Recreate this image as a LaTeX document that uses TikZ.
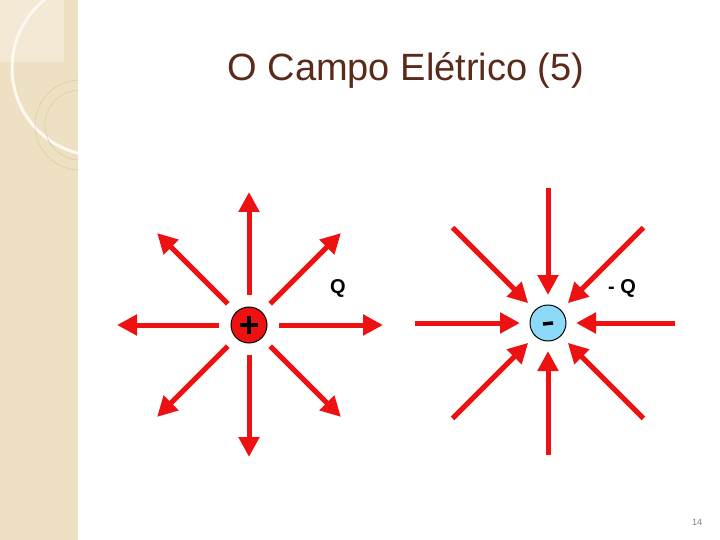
\documentclass[tikz,border=0pt]{standalone}
\usepackage{fontspec}
\setmainfont{Liberation Sans}
\usetikzlibrary{arrows.meta,calc}
\definecolor{side}{HTML}{EEE0C2}
\definecolor{ring}{HTML}{D8C49C}
\definecolor{ttl}{HTML}{5A2A1A}
\definecolor{fr}{HTML}{EE1111}
\tikzset{fld/.style={draw=fr,line width=5pt,-{Triangle[length=20pt,width=20pt]}},
 lbl/.style={font=\fontsize{20}{24}\selectfont\bfseries}}
\begin{document}
\begin{tikzpicture}[x=1pt,y=-1pt]
\useasboundingbox (0,0) rectangle (720,540);
\fill[white] (0,0) rectangle (720,540);
\begin{scope}
\clip (0,0) rectangle (78,540);
\fill[side] (0,0) rectangle (78,540);
\fill[white,opacity=0.3] (0,0) rectangle (64,62);
\draw[white!80!side,line width=3pt] (100,68) circle (88);
\draw[ring] (80,125) circle (45);
\draw[ring] (80,125) circle (35);
\end{scope}
\node[text=ttl,font=\fontsize{38}{44}\selectfont] (title) at (406,70) {O Campo Elétrico (5)};
\node[text=gray,font=\fontsize{9}{10}\selectfont] (pg) at (697,522) {14};
% positive
\node[circle,draw=black,line width=1pt,fill=fr,minimum size=36pt,inner sep=0] (p) at (249,325) {};
\draw[line width=4pt] (240,325)--(258,325) (249,316)--(249,334);
\foreach \a/\r in {0/134,90/132,180/132,270/133,45/130,135/130,225/130,315/130}
  \draw[fld] ($(p)+(\a:30)$) -- ($(p)+(\a:\r)$);
\node[lbl] (q1) at (338,288) {Q};
% negative
\node[circle,draw=black,line width=1pt,fill=cyan!45,minimum size=36pt,inner sep=0] (n) at (548,323) {};
\draw[line width=3.5pt] (543,324)--(553,323);
\foreach \a/\r in {0/127,90/132,180/133,270/135,45/135,135/135,225/135,315/135}
  \draw[fld] ($(n)+(\a:\r)$) -- ($(n)+(\a:28)$);
\node[lbl] (q2) at (622,288) {- Q};
\end{tikzpicture}
\end{document}
